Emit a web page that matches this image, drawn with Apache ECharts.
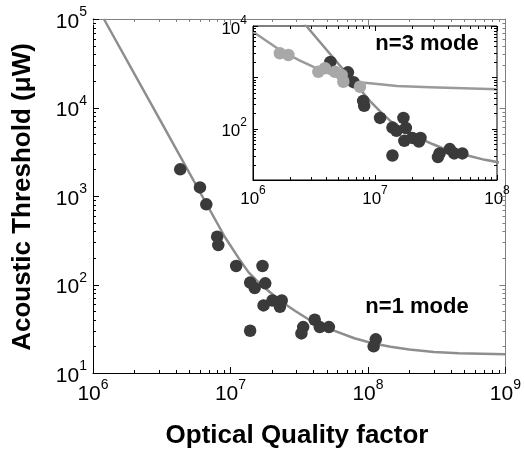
<!DOCTYPE html>
<html><head><meta charset="utf-8">
<script src="https://cdn.jsdelivr.net/npm/echarts@6/dist/echarts.min.js"></script>
<style>html,body{margin:0;padding:0;background:#fff}#c{width:524px;height:450px}</style>
</head><body><div id="c"></div>
<script>
// n=1 mode measurements: optical Q vs acoustic threshold (µW)
const n1Q = [4.31e6, 6.0e6, 6.67e6, 8.0e6, 8.15e6, 1.1e7, 1.71e7, 1.39e7, 1.5e7, 1.79e7, 1.74e7, 2.02e7, 2.36e7, 2.29e7, 1.39e7, 3.38e7, 4.1e7, 4.46e7, 5.2e7, 3.28e7, 1.14e8, 1.10e8];
const n1T = [2000, 1250, 805, 347, 279, 162, 162, 105, 91, 103, 58, 66, 66, 56, 30, 33, 40, 33, 33, 28, 24, 20];
// n=3 mode measurements
const n3Q = [1.66e6, 1.95e6, 3.43e6, 3.89e6, 4.7e6, 5.33e6, 5.5e6, 7.53e6];
const n3T = [2940, 2720, 1285, 1500, 1285, 1110, 820, 656];
// threshold model curves
const fit1Q = [1.2e6, 3.05e6, 9.1e6, 1.15e7, 1.355e7, 1.65e7, 1.89e7, 2.34e7, 2.96e7, 4.1e7, 5.12e7, 7.96e7, 1.08e8, 1.46e8, 2.0e8, 3.02e8, 4.57e8, 1e9];
const fit1T = [1e5, 7400, 344, 197, 137, 101, 84.5, 64.3, 50.2, 36.5, 32, 24.7, 21.7, 19.8, 18.4, 17.3, 16.7, 16.3];
const fit3Q = [1e6, 1.66e6, 2.4e6, 3.33e6, 4.5e6, 5.86e6, 7.3e6, 9.1e6, 1.51e7, 2.82e7, 5.3e7, 1e8];
const fit3T = [7740, 3405, 2150, 1497, 1120, 886, 800, 764, 677, 638, 610, 584];
// axis ranges (powers of ten)
const mainX = [6, 9], mainY = [1, 5];
const insetX = [6, 8], insetY = [1, 4];

const FONT = "'Liberation Sans', Arial, Helvetica, sans-serif";
const zip = (a, b) => a.map((v, i) => [v, b[i]]);
const exp10 = v => Math.round(Math.log10(v));

function powLabel(big, small, onlyEven) {
  return {
    margin: 0,
    formatter: v => {
      const e = exp10(v);
      if (onlyEven && e % 2) return '';
      return '{b|10}{s|' + e + '}';
    },
    rich: {
      b: { fontFamily: FONT, fontSize: big, color: '#000', lineHeight: big + 6, verticalAlign: 'bottom' },
      s: { fontFamily: FONT, fontSize: small, color: '#000', lineHeight: small, verticalAlign: 'top' }
    }
  };
}

function logAxis(gridIndex, position, range, label, lineColor, extra) {
  return Object.assign({
    type: 'log', logBase: 10, gridIndex, position,
    min: Math.pow(10, range[0]), max: Math.pow(10, range[1]),
    axisLine: { show: true, onZero: false, lineStyle: { color: lineColor, width: 1 } },
    axisTick: { show: false },
    splitLine: { show: false },
    axisLabel: label || { show: false }
  }, extra || {});
}

const chart = echarts.init(document.getElementById('c'));

const mainXLabel = Object.assign(powLabel(21, 14), { margin: 5 });
const mainYLabel = Object.assign(powLabel(21, 14), { margin: 6 });
const insXLabel = Object.assign(powLabel(17, 12), { margin: 5 });
const insYLabel = Object.assign(powLabel(17, 12, true), { margin: 6 });

const curveStyle = { color: '#8e8e8e', width: 2.5, join: 'round' };

chart.setOption({
  animation: false,
  backgroundColor: '#fff',
  grid: [
    { left: 93, top: 19, width: 416, height: 354, show: false },
    { left: 253, top: 26, width: 244, height: 154, show: true, backgroundColor: '#fff', borderColor: '#000', borderWidth: 1, z: 3 }
  ],
  xAxis: [
    logAxis(0, 'bottom', mainX, mainXLabel, '#000'),
    logAxis(0, 'top', mainX, null, '#808080'),
    logAxis(1, 'bottom', insetX, insXLabel, '#000', { z: 4 })
  ],
  yAxis: [
    logAxis(0, 'left', mainY, mainYLabel, '#000'),
    logAxis(0, 'right', mainY, null, '#808080'),
    logAxis(1, 'left', insetY, insYLabel, '#000', { z: 4 })
  ],
  series: [
    { type: 'line', xAxisIndex: 0, yAxisIndex: 0, data: zip(fit1Q, fit1T), showSymbol: false, smooth: false,
      lineStyle: curveStyle, z: 2 },
    { type: 'scatter', xAxisIndex: 0, yAxisIndex: 0, data: zip(n1Q, n1T), symbolSize: 12.5,
      itemStyle: { color: '#3a3a3a', opacity: 1 }, z: 3 },
    { type: 'line', xAxisIndex: 2, yAxisIndex: 2, data: zip(fit1Q, fit1T), showSymbol: false, smooth: false,
      lineStyle: curveStyle, z: 5 },
    { type: 'line', xAxisIndex: 2, yAxisIndex: 2, data: zip(fit3Q, fit3T), showSymbol: false, smooth: false,
      lineStyle: { color: '#9a9a9a', width: 2.5, join: 'round' }, z: 5 },
    { type: 'scatter', xAxisIndex: 2, yAxisIndex: 2, data: zip(n1Q, n1T), symbolSize: 12.5,
      itemStyle: { color: '#3a3a3a', opacity: 1 }, z: 6 },
    { type: 'scatter', xAxisIndex: 2, yAxisIndex: 2, data: zip(n3Q, n3T), symbolSize: 12.5,
      itemStyle: { color: '#a8a8a8', opacity: 1 }, z: 7 }
  ]
});

// Inward decade and sub-decade ticks on all four sides of a plot frame
function frameTicks(xi, yi, xr, yr, major, minor, colors) {
  const px = v => chart.convertToPixel({ xAxisIndex: xi }, v);
  const py = v => chart.convertToPixel({ yAxisIndex: yi }, v);
  const x0 = px(Math.pow(10, xr[0])), x1 = px(Math.pow(10, xr[1]));
  const y0 = py(Math.pow(10, yr[0])), y1 = py(Math.pow(10, yr[1]));
  const out = [];
  const seg = (a, b, c, d, col) => out.push({ type: 'line', silent: true, z: 20,
    shape: { x1: a, y1: b, x2: c, y2: d }, style: { stroke: col, lineWidth: 1 } });
  const values = r => {
    const vs = [];
    for (let e = r[0]; e < r[1]; e++) for (let k = 1; k <= 9; k++) vs.push([k * Math.pow(10, e), k === 1]);
    vs.push([Math.pow(10, r[1]), true]);
    return vs;
  };
  values(xr).forEach(([v, maj]) => {
    const x = Math.round(px(v)) + 0.5, L = maj ? major : minor;
    seg(x, y0, x, y0 - L, colors.bottom);
    seg(x, y1, x, y1 + L, colors.top);
  });
  values(yr).forEach(([v, maj]) => {
    const y = Math.round(py(v)) + 0.5, L = maj ? major : minor;
    seg(x0, y, x0 + L, y, colors.left);
    seg(x1, y, x1 - L, y, colors.right);
  });
  return out;
}

const graphics = []
  .concat(frameTicks(0, 0, mainX, mainY, 6, 3, { bottom: '#000', left: '#000', top: '#808080', right: '#808080' }))
  .concat(frameTicks(2, 2, insetX, insetY, 5, 3, { bottom: '#000', left: '#000', top: '#000', right: '#000' }));

graphics.push(
  { type: 'text', x: 417, y: 307, z: 30, style: { text: 'n=1 mode', font: 'bold 22px ' + FONT, fill: '#000', textAlign: 'center', textVerticalAlign: 'middle' } },
  { type: 'text', x: 427, y: 44, z: 30, style: { text: 'n=3 mode', font: 'bold 22px ' + FONT, fill: '#000', textAlign: 'center', textVerticalAlign: 'middle' } },
  { type: 'text', x: 297, y: 436, z: 30, style: { text: 'Optical Quality factor', font: 'bold 26px ' + FONT, fill: '#000', textAlign: 'center', textVerticalAlign: 'middle' } },
  { type: 'text', x: 23, y: 197, rotation: Math.PI / 2, z: 30, style: { text: 'Acoustic Threshold (\u03bcW)', font: 'bold 26px ' + FONT, fill: '#000', textAlign: 'center', textVerticalAlign: 'middle' } }
);

chart.setOption({ graphic: graphics });
</script>
</body></html>
